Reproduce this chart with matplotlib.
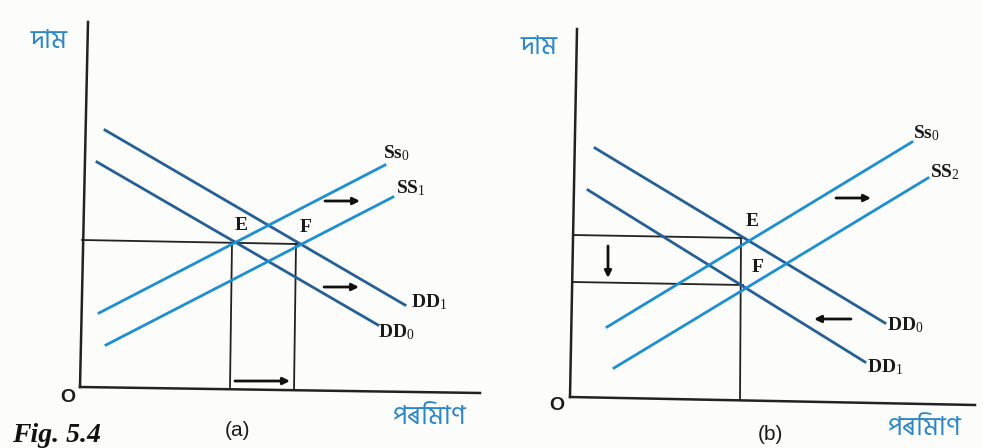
#!/usr/bin/env python3
import matplotlib
matplotlib.use("Agg")
import matplotlib.pyplot as plt

plt.rcParams['mathtext.fontset'] = 'custom'
plt.rcParams['mathtext.rm'] = 'Liberation Serif'
plt.rcParams['mathtext.it'] = 'Liberation Serif'

# diagram coordinates (image pixels, y downwards)
# panel (a)
a_axes = [[(88, 22), (80, 387)], [(80, 387), (480, 393)]]
a_demand = {"DD$_1$": [(105, 130), (405, 305)],
            "DD$_0$": [(97, 162), (378, 325)]}
a_supply = {"Ss$_0$": [(99, 313), (385, 165)],
            "SS$_1$": [(106, 345), (393, 197)]}
a_guides = [[(82, 240), (297, 244)],
            [(232, 243), (230, 387)],
            [(296, 244), (294, 390)]]
a_arrows = [[(325, 201), (360, 201)], [(324, 287), (359, 287)], [(235, 381), (290, 381)]]
a_labels = [("Ss$_0$", 383, 153), ("SS$_1$", 396, 188), ("DD$_1$", 411, 302),
            ("DD$_0$", 378, 332), ("E", 235, 226), ("F", 300, 228)]
a_origin = (68, 397)

# panel (b)
b_axes = [[(577, 29), (570, 397)], [(570, 397), (975, 405)]]
b_demand = {"DD$_0$": [(595, 148), (885, 323)],
            "DD$_1$": [(588, 190), (865, 362)]}
b_supply = {"Ss$_0$": [(607, 327), (912, 142)],
            "SS$_2$": [(614, 368), (928, 178)]}
b_guides = [[(573, 235), (745, 238)],
            [(573, 282), (743, 285)],
            [(741, 238), (740, 400)]]
b_arrows = [[(608, 246), (608, 278)], [(836, 198), (871, 198)], [(851, 319), (814, 319)]]
b_labels = [("Ss$_0$", 913, 133), ("SS$_2$", 930, 172), ("DD$_0$", 887, 325),
            ("DD$_1$", 867, 367), ("E", 746, 221), ("F", 752, 268)]
b_origin = (557, 405)

price_text = "দাম"
qty_text = "পৰিমাণ"
blue = "#1c8fd3"
dblue = "#245f95"
bn_blue = "#2a86c8"
bn_fonts = ["Hind Siliguri", "DejaVu Sans"]

fig = plt.figure(figsize=(9.83, 4.48), dpi=100)
fig.patch.set_facecolor("#fcfcfb")
ax = fig.add_axes([0, 0, 1, 1])
ax.set_xlim(0, 983)
ax.set_ylim(448, 0)
ax.axis("off")

def draw_panel(axes_lines, demand, supply, guides, arrows, labels, origin):
    for seg in axes_lines:
        ax.plot([seg[0][0], seg[1][0]], [seg[0][1], seg[1][1]], color="#222222", lw=1.8)
    for seg in guides:
        ax.plot([seg[0][0], seg[1][0]], [seg[0][1], seg[1][1]], color="#222222", lw=1.3)
    for name, seg in demand.items():
        ax.plot([seg[0][0], seg[1][0]], [seg[0][1], seg[1][1]], color=dblue, lw=2.0)
    for name, seg in supply.items():
        ax.plot([seg[0][0], seg[1][0]], [seg[0][1], seg[1][1]], color=blue, lw=2.0)
    for seg in arrows:
        ax.annotate("", xy=seg[1], xytext=seg[0],
                    arrowprops=dict(arrowstyle="-|>", color="#111111", lw=2.0,
                                    mutation_scale=10, shrinkA=0, shrinkB=0))
    for txt, x, y in labels:
        ax.text(x, y, txt, fontsize=14, family="Liberation Serif", fontweight="bold",
                color="#1a1a1a", ha="left", va="center")
    ax.text(origin[0], origin[1], "O", fontsize=14, family="Liberation Sans",
            fontweight="bold", color="#1a1a1a", ha="center", va="center")

draw_panel(a_axes, a_demand, a_supply, a_guides, a_arrows, a_labels, a_origin)
draw_panel(b_axes, b_demand, b_supply, b_guides, b_arrows, b_labels, b_origin)

ax.text(49, 41, price_text, fontsize=19, color=bn_blue, ha="center", va="center", family=bn_fonts)
ax.text(539, 47, price_text, fontsize=19, color=bn_blue, ha="center", va="center", family=bn_fonts)
ax.text(430, 417, qty_text, fontsize=19, color=bn_blue, ha="center", va="center", family=bn_fonts)
ax.text(925, 428, qty_text, fontsize=19, color=bn_blue, ha="center", va="center", family=bn_fonts)

ax.text(237, 430, "(a)", fontsize=15, color="#1a1a1a", ha="center", va="center", family="Liberation Sans")
ax.text(770, 434, "(b)", fontsize=15, color="#1a1a1a", ha="center", va="center", family="Liberation Sans")
ax.text(12, 436, "Fig. 5.4", fontsize=20, color="#111111", ha="left", va="center",
        family="Liberation Serif", fontweight="bold", style="italic")

fig.savefig("out.png", dpi=100, facecolor=fig.get_facecolor())
